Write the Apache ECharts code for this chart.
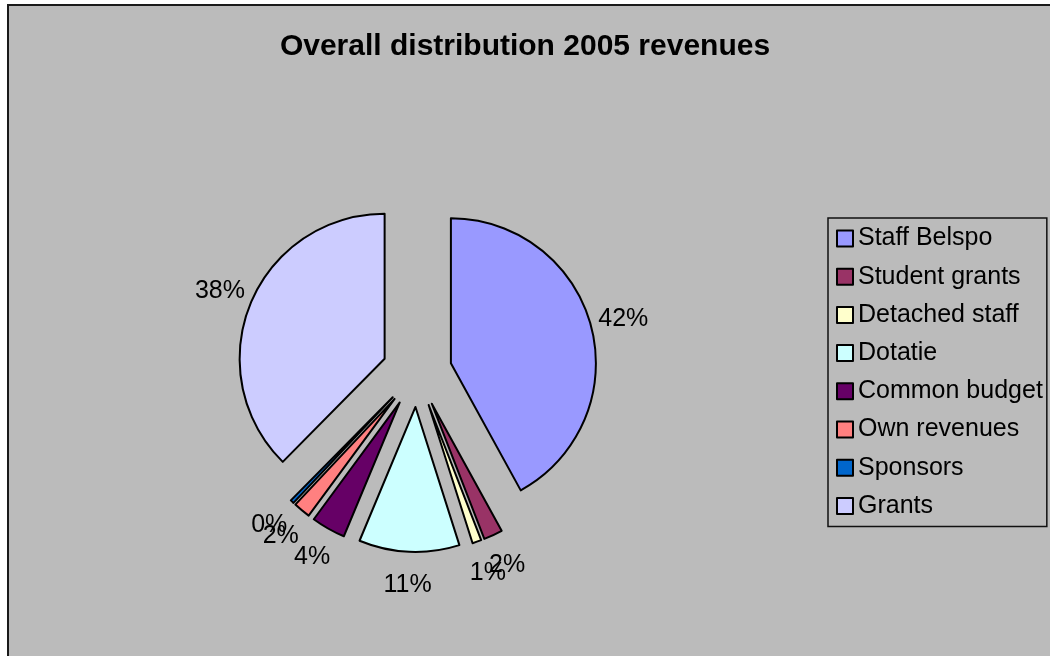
<!DOCTYPE html>
<html>
<head>
<meta charset="utf-8">
<title>Overall distribution 2005 revenues</title>
<script src="https://cdn.jsdelivr.net/npm/echarts@6/dist/echarts.min.js"></script>
<style>
  html, body { margin: 0; padding: 0; background: #ffffff; }
  #chart { width: 1050px; height: 656px; }
</style>
</head>
<body>
<div id="chart"></div>
<script>
// Revenue sources for 2005 and their shares (percent of total)
const categories = ['Staff Belspo', 'Student grants', 'Detached staff', 'Dotatie',
                    'Common budget', 'Own revenues', 'Sponsors', 'Grants'];
const shares = [42.0, 2.1, 1.0, 11.2, 3.8, 1.9, 0.4, 37.6];
const sliceColors = ['#9999FF', '#993366', '#FFFFCC', '#CCFFFF',
                     '#660066', '#FF8080', '#0066CC', '#CCCCFF'];

const FONT = 'Liberation Sans, Arial, sans-serif';
const pieCenter = [417, 372];
const pieRadius = 145;
const explode = 35;
const labelRadius = pieRadius + explode + 30;

const sliceData = categories.map((name, i) => ({
  name: name,
  value: shares[i],
  selected: true,
  itemStyle: { color: sliceColors[i] }
}));

// Invisible ring carrying the percentage labels outside the exploded slices
const labelData = categories.map((name, i) => ({
  name: name,
  value: shares[i],
  itemStyle: { color: 'rgba(0,0,0,0)' }
}));

const chart = echarts.init(document.getElementById('chart'), null, { renderer: 'canvas' });

chart.setOption({
  animation: false,
  backgroundColor: '#ffffff',
  graphic: [{
    type: 'rect',
    z: -10,
    silent: true,
    shape: { x: 8, y: 5, width: 1100, height: 700 },
    style: { fill: '#BBBBBB', stroke: '#1a1a1a', lineWidth: 2 }
  }],
  title: {
    text: 'Overall distribution 2005 revenues',
    left: 'center',
    top: 27,
    textStyle: { fontFamily: FONT, fontSize: 30, fontWeight: 'bold', color: '#000' }
  },
  legend: {
    orient: 'vertical',
    left: 828,
    top: 218,
    data: categories,
    icon: 'rect',
    itemWidth: 16,
    itemHeight: 16,
    itemGap: 13.2,
    padding: [8, 4, 8, 8],
    borderColor: '#111',
    borderWidth: 1.5,
    selectedMode: false,
    itemStyle: { borderColor: '#000', borderWidth: 2 },
    textStyle: { fontFamily: FONT, fontSize: 25, lineHeight: 25, color: '#000' }
  },
  series: [
    {
      type: 'pie',
      center: pieCenter,
      radius: pieRadius,
      startAngle: 90,
      clockwise: true,
      selectedMode: 'multiple',
      selectedOffset: explode,
      avoidLabelOverlap: false,
      label: { show: false },
      labelLine: { show: false },
      itemStyle: { borderColor: '#000', borderWidth: 2 },
      select: { itemStyle: { borderColor: '#000', borderWidth: 2 } },
      emphasis: { disabled: true, scale: false },
      data: sliceData
    },
    {
      type: 'pie',
      center: pieCenter,
      radius: [labelRadius - 6, labelRadius + 6],
      startAngle: 90,
      clockwise: true,
      silent: true,
      selectedMode: false,
      avoidLabelOverlap: false,
      itemStyle: { borderWidth: 0 },
      emphasis: { disabled: true, scale: false },
      labelLine: { show: false },
      labelLayout: { hideOverlap: false },
      label: {
        show: true,
        position: 'inside',
        overflow: 'none',
        fontFamily: FONT,
        fontSize: 25,
        color: '#000',
        formatter: p => Math.round(p.percent) + '%'
      },
      data: labelData
    }
  ]
});
</script>
</body>
</html>
